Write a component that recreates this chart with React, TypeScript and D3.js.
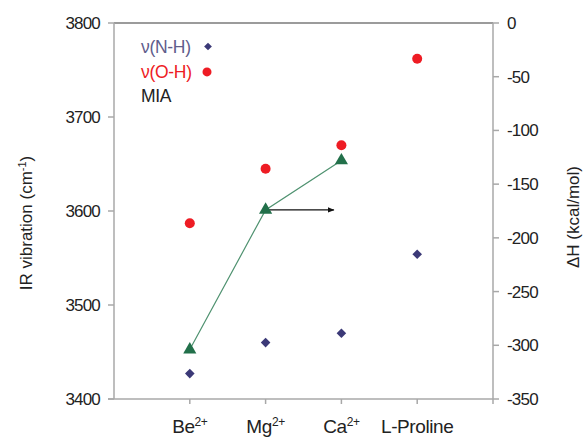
import React from "react";
import * as d3 from "d3";

const categories = ["Be", "Mg", "Ca", "L-Proline"];
const categorySup = ["2+", "2+", "2+", ""];
const nhValues = [3427, 3460, 3470, 3554];
const ohValues = [3587, 3645, 3670, 3762];
const miaValues = [-304, -174, -128];
const leftTicks = [3400, 3500, 3600, 3700, 3800];
const rightTicks = [-350, -300, -250, -200, -150, -100, -50, 0];
const arrowFrom = { x: 2, y: -174 };
const arrowTo = { x: 2.9, y: -174 };
const legendItems = [
  { label: "ν(N-H)", color: "#5f5d8c", marker: "diamond", value: 3775 },
  { label: "ν(O-H)", color: "#ee1c24", marker: "circle", value: 3748 },
  { label: "MIA", color: "#222222", marker: "none", value: 3722 },
];

const W = 585, H = 438;
const L = 114, R = 493, T = 23, B = 399;
const FONT = "'Liberation Sans', Arial, sans-serif";

export default function App() {
  const x = d3.scaleLinear().domain([0, 5]).range([L, R]);
  const yL = d3.scaleLinear().domain([3400, 3800]).range([B, T]);
  const yR = d3.scaleLinear().domain([-350, 0]).range([B, T]);
  const line = d3.line<number>().x((_, i) => x(i + 1)).y((d) => yR(d));
  const tri = d3.symbol().type(d3.symbolTriangle).size(75)();
  const dia = d3.symbol().type(d3.symbolSquare).size(46)();
  const diaSmall = d3.symbol().type(d3.symbolSquare).size(30)();
  const axisGray = "#a8a8a8";
  return (
    <svg width={W} height={H} style={{ position: "absolute", left: 0, top: 0, background: "#fff" }} fontFamily={FONT}>
      <defs>
        <marker id="ah" viewBox="0 0 10 10" refX="9" refY="5" markerWidth="7" markerHeight="7" orient="auto" markerUnits="userSpaceOnUse">
          <path d="M0,1 L10,5 L0,9 Z" fill="#111" />
        </marker>
      </defs>
      {/* frame */}
      <line x1={L} x2={R} y1={T} y2={T} stroke="#7a7a7a" strokeWidth={1.5} />
      <line x1={L} x2={L} y1={T} y2={B} stroke={axisGray} strokeWidth={1.5} />
      <line x1={R} x2={R} y1={T} y2={B} stroke={axisGray} strokeWidth={1.5} />
      <line x1={L - 6} x2={R} y1={B} y2={B} stroke={axisGray} strokeWidth={1.5} />
      {/* left ticks */}
      {leftTicks.map((t) => (
        <g key={"l" + t}>
          <line x1={L - 6} x2={L} y1={yL(t)} y2={yL(t)} stroke={axisGray} strokeWidth={1.5} />
          <text x={L - 14} y={yL(t)} dy="0.35em" textAnchor="end" fontSize={17} fill="#222" letterSpacing={-0.8}>{t}</text>
        </g>
      ))}
      {/* right ticks */}
      {rightTicks.map((t) => (
        <g key={"r" + t}>
          <line x1={R} x2={R + 6} y1={yR(t)} y2={yR(t)} stroke={axisGray} strokeWidth={1.5} />
          <text x={R + 14} y={yR(t)} dy="0.35em" textAnchor="start" fontSize={17} fill="#222" letterSpacing={-0.8}>{t}</text>
        </g>
      ))}
      {/* bottom ticks */}
      {[1, 2, 3, 4, 5].map((k) => (
        <line key={"b" + k} x1={x(k)} x2={x(k)} y1={B} y2={B + 5} stroke={axisGray} strokeWidth={1.5} />
      ))}
      {categories.map((c, i) => (
        <text key={c} x={x(i + 1)} y={433} textAnchor="middle" fontSize={19} fill="#222" letterSpacing={-0.4}>
          {c}
          {categorySup[i] && <tspan fontSize={12} dy={-7}>{categorySup[i]}</tspan>}
        </text>
      ))}
      {/* axis titles */}
      <text transform={`translate(32,${(T + B) / 2 + 12}) rotate(-90)`} textAnchor="middle" fontSize={17} fill="#222">
        IR vibration (cm<tspan fontSize={11} dy={-6}>-1</tspan><tspan dy={6}>)</tspan>
      </text>
      <text transform={`translate(579,${(T + B) / 2 + 6}) rotate(-90)`} textAnchor="middle" fontSize={17} fill="#222">
        ΔH (kcal/mol)
      </text>
      {/* MIA line */}
      <path d={line(miaValues) || ""} fill="none" stroke="#4f9270" strokeWidth={1.2} />
      {/* arrow */}
      <line x1={x(arrowFrom.x)} y1={yR(arrowFrom.y)} x2={x(arrowTo.x)} y2={yR(arrowTo.y)} stroke="#111" strokeWidth={1.3} markerEnd="url(#ah)" />
      {miaValues.map((v, i) => (
        <path key={"m" + i} d={tri || ""} transform={`translate(${x(i + 1)},${yR(v)})`} fill="#22704a" />
      ))}
      {ohValues.map((v, i) => (
        <circle key={"o" + i} cx={x(i + 1)} cy={yL(v)} r={5} fill="#ee1c24" />
      ))}
      {nhValues.map((v, i) => (
        <path key={"n" + i} d={dia || ""} transform={`translate(${x(i + 1)},${yL(v)}) rotate(45)`} fill="#3b3977" />
      ))}
      {/* legend */}
      {legendItems.map((it) => (
        <g key={it.label}>
          <text x={141} y={yL(it.value)} dy="0.35em" textAnchor="start" fontSize={17.5} fill={it.color} letterSpacing={-0.3}>{it.label}</text>
          {it.marker === "diamond" && <path d={diaSmall || ""} transform={`translate(208,${yL(it.value)}) rotate(45)`} fill="#3b3977" />}
          {it.marker === "circle" && <circle cx={207} cy={yL(it.value)} r={4.5} fill="#ee1c24" />}
        </g>
      ))}
    </svg>
  );
}
